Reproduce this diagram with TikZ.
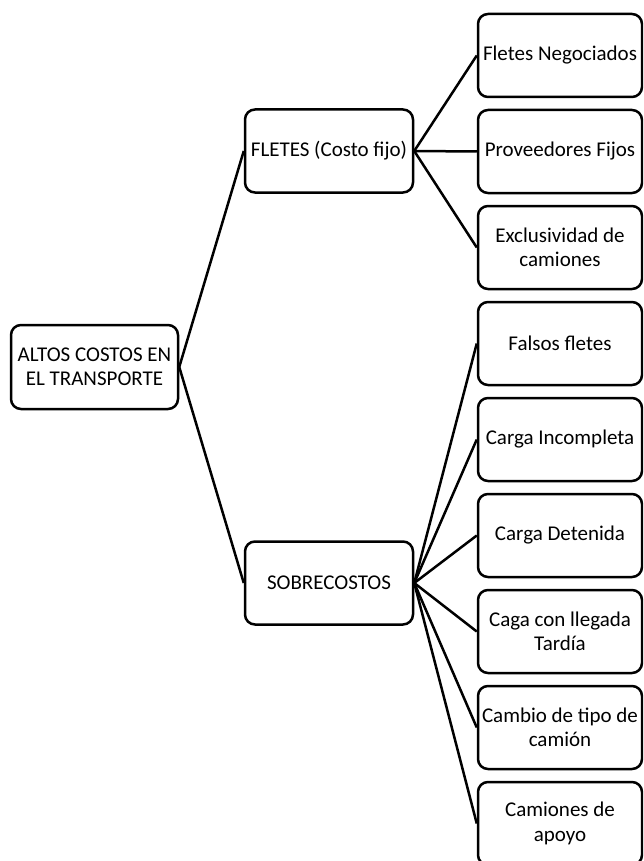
\documentclass[tikz,border=0pt]{standalone}
\usepackage{fontspec}
\setmainfont{Carlito}
\begin{document}
\begin{tikzpicture}[x=1pt,y=-1pt,
  box/.style={draw=black, line width=2.5pt, rounded corners=10pt, fill=white,
    minimum width=167pt, minimum height=83pt, inner sep=0pt, align=center,
    font=\fontsize{21}{24.5}\selectfont},
  leaf/.style={box, minimum width=164pt},
  link/.style={draw=black, line width=2.5pt}]
\useasboundingbox (0,0) rectangle (643,861);
\begin{scope}
\clip (0,0) rectangle (643,861);
% root and second level
\node[box, minimum height=84pt] (root) at (94.5,367) {ALTOS COSTOS EN\\EL TRANSPORTE};
\node[box, minimum width=168pt] (fletes) at (329,151) {FLETES (Costo fijo)};
\node[box, minimum width=168pt] (sobre) at (329,583) {SOBRECOSTOS};
% leaves
\node[leaf] (l1) at (560,55.5) {Fletes Negociados};
\node[leaf] (l2) at (560,151.5) {Proveedores Fijos};
\node[leaf] (l3) at (560,247.5) {Exclusividad de\\camiones};
\node[leaf] (l4) at (560,343.5) {Falsos fletes};
\node[leaf] (l5) at (560,439.5) {Carga Incompleta};
\node[leaf] (l6) at (560,535.5) {Carga Detenida};
\node[leaf] (l7) at (560,631.5) {Caga con llegada\\Tardía};
\node[leaf] (l8) at (560,727.5) {Cambio de tipo de\\camión};
\node[leaf] (l9) at (560,823.5) {Camiones de\\apoyo};
% connectors
\draw[link] (root.east) -- (fletes.west);
\draw[link] (root.east) -- (sobre.west);
\foreach \n in {l1,l2,l3}
  \draw[link] (fletes.east) -- (\n.west);
\foreach \n in {l4,l5,l6,l7,l8,l9}
  \draw[link] (sobre.east) -- (\n.west);
\end{scope}
\end{tikzpicture}
\end{document}
